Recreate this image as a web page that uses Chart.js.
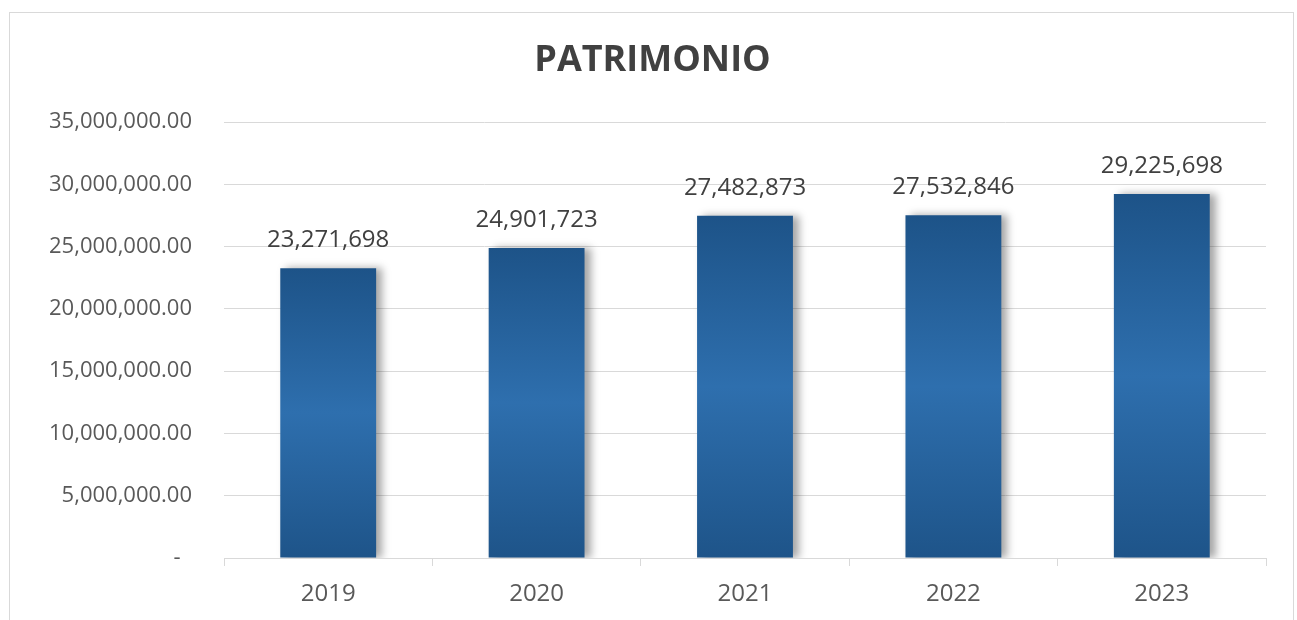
<!DOCTYPE html>
<html>
<head>
<meta charset="utf-8">
<script src="https://cdn.jsdelivr.net/npm/chart.js@4"></script>
<style>
  html, body { margin: 0; padding: 0; background: #fff; }
  body { width: 1297px; height: 620px; position: relative; overflow: hidden; }
  .frame { position: absolute; left: 9px; top: 12px; width: 1285px; height: 640px; border: 1px solid #d9d9d9; box-sizing: border-box; }
  canvas { position: absolute; left: 0; top: 0; }
</style>
</head>
<body>
<div class="frame"></div>
<canvas id="chart" width="1297" height="620"></canvas>
<script>
const years = ["2019", "2020", "2021", "2022", "2023"];
const patrimonio = [23271698, 24901723, 27482873, 27532846, 29225698];
const yMax = 35000000;
const yStep = 5000000;

const FONT = "'Open Sans', 'DejaVu Sans', sans-serif";

function barGradient(context) {
  const chart = context.chart;
  const y = chart.scales && chart.scales.y;
  if (!chart.chartArea || !y || context.raw == null) return "#2a64a0";
  const top = y.getPixelForValue(context.raw);
  const bottom = y.getPixelForValue(0);
  const g = chart.ctx.createLinearGradient(0, top, 0, bottom);
  g.addColorStop(0, "#1d5388");
  g.addColorStop(0.5, "#2e6fae");
  g.addColorStop(1, "#1e5489");
  return g;
}

const barShadow = {
  id: "barShadow",
  beforeDatasetDraw(chart) {
    const ctx = chart.ctx;
    ctx.save();
    ctx.shadowColor = "rgba(0, 0, 0, 0.35)";
    ctx.shadowBlur = 8;
    ctx.shadowOffsetX = 6;
    ctx.shadowOffsetY = 0;
  },
  afterDatasetDraw(chart) {
    chart.ctx.restore();
  },
};

const valueLabels = {
  id: "valueLabels",
  afterDatasetsDraw(chart) {
    const ctx = chart.ctx;
    const meta = chart.getDatasetMeta(0);
    ctx.save();
    ctx.font = "24px " + FONT;
    ctx.fillStyle = "#404040";
    ctx.textAlign = "center";
    ctx.textBaseline = "middle";
    meta.data.forEach((bar, i) => {
      const v = chart.data.datasets[0].data[i];
      ctx.fillText(v.toLocaleString("en-US"), bar.x, bar.y - 28);
    });
    ctx.restore();
  },
};

new Chart(document.getElementById("chart").getContext("2d"), {
  type: "bar",
  data: {
    labels: years,
    datasets: [
      {
        label: "Patrimonio",
        data: patrimonio,
        backgroundColor: barGradient,
        borderWidth: 0,
        barPercentage: 0.46,
        categoryPercentage: 1.0,
      },
    ],
  },
  options: {
    responsive: false,
    animation: false,
    layout: {
      padding: { top: 0, right: 31, bottom: 0, left: 39 },
    },
    plugins: {
      legend: { display: false },
      tooltip: { enabled: false },
      title: {
        display: true,
        text: "PATRIMONIO",
        color: "#404040",
        font: { family: FONT, size: 36, weight: "bold" },
        padding: { top: 39, bottom: 40 },
      },
    },
    scales: {
      x: {
        grid: {
          drawOnChartArea: false,
          drawTicks: true,
          tickLength: 8,
          color: "#d9d9d9",
          offset: true,
        },
        border: { color: "#d9d9d9", width: 1 },
        ticks: {
          color: "#595959",
          font: { family: FONT, size: 24 },
          padding: 14,
        },
        afterFit(scale) {
          scale.height = 62;
        },
      },
      y: {
        min: 0,
        max: yMax,
        grid: { color: "#d9d9d9", drawTicks: false },
        border: { display: false },
        ticks: {
          stepSize: yStep,
          color: "#595959",
          font: { family: FONT, size: 22 },
          padding: 32,
          callback: function (value) {
            if (value === 0) return "-  ";
            return value.toLocaleString("en-US", { minimumFractionDigits: 2, maximumFractionDigits: 2 });
          },
        },
        afterFit(scale) {
          scale.width = 185;
        },
      },
    },
  },
  plugins: [barShadow, valueLabels],
});
</script>
</body>
</html>
